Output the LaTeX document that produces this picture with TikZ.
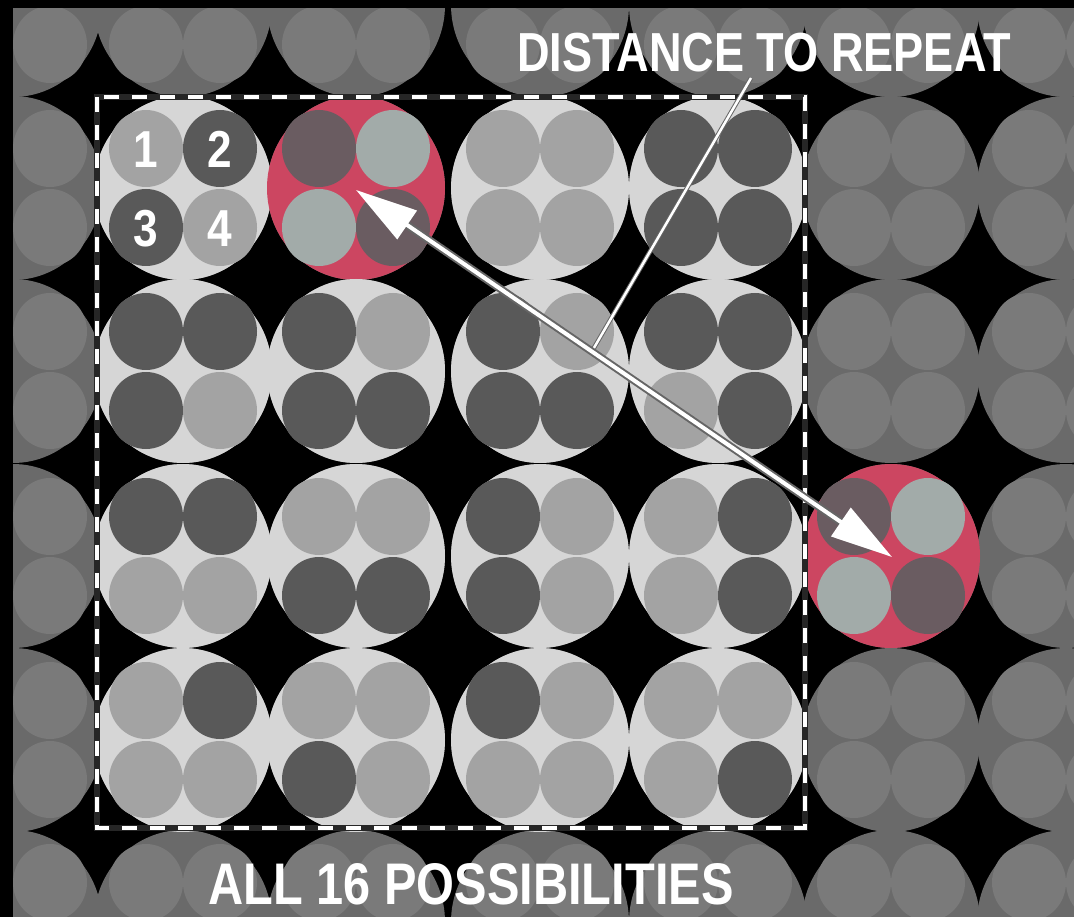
\documentclass[tikz,border=0pt]{standalone}
\usepackage{fontspec}
\usepackage{graphicx}
\newfontfamily\labfont{Liberation Sans}
\usetikzlibrary{arrows.meta,calc}
\definecolor{bigin}{HTML}{D6D6D6}
\definecolor{dk}{HTML}{595959}
\definecolor{lt}{HTML}{A3A3A3}
\definecolor{bigout}{HTML}{6A6A6A}
\definecolor{sout}{HTML}{7A7A7A}
\definecolor{rbig}{HTML}{CC4661}
\definecolor{rdk}{HTML}{6A5C61}
\definecolor{rlt}{HTML}{A2ABA9}
\tikzset{
  lbl/.style={text=white, inner sep=0pt, font=\labfont\bfseries},
  num/.style={text=white, inner sep=0pt, anchor=base, font=\labfont\bfseries\fontsize{52pt}{56pt}\selectfont},
  arrowshaft/.style={line width=4pt, white},
}
\newcommand{\cellbig}[3]{\fill[#3] (#1,#2) ellipse [x radius=89pt, y radius=92pt];}
\newcommand{\cellsmall}[6]{%
  \fill[#3] (#1-37,#2-39.5) ellipse [x radius=37pt, y radius=38.5pt];
  \fill[#4] (#1+37,#2-39.5) ellipse [x radius=37pt, y radius=38.5pt];
  \fill[#5] (#1-37,#2+39.5) ellipse [x radius=37pt, y radius=38.5pt];
  \fill[#6] (#1+37,#2+39.5) ellipse [x radius=37pt, y radius=38.5pt];}
\begin{document}
\begin{tikzpicture}[x=1pt,y=-1pt]
\useasboundingbox (0,0) rectangle (1074,917);
\clip (0,0) rectangle (1074,917);
\fill[black] (0,0) rectangle (1074,917);
% outer grey cells
\foreach \cx in {13,183,356,540,718,891,1066}{
  \foreach \cy in {5,188,371,556,740,922}{
    \cellbig{\cx}{\cy}{bigout}
  }
}
\foreach \cx in {13,183,356,540,718,891,1066}{
  \foreach \cy in {5,188,371,556,740,922}{
    \cellsmall{\cx}{\cy}{sout}{sout}{sout}{sout}
  }
}
% inner cells (all 16 possibilities) and the repeated one
\foreach \cx/\cy/\g in {
  183/188/bigin, 356/188/rbig, 540/188/bigin, 718/188/bigin,
  183/371/bigin, 356/371/bigin, 540/371/bigin, 718/371/bigin,
  183/556/bigin, 356/556/bigin, 540/556/bigin, 718/556/bigin,
  183/740/bigin, 356/740/bigin, 540/740/bigin, 718/740/bigin,
  891/556/rbig}{
  \cellbig{\cx}{\cy}{\g}
}
\foreach \cx/\cy/\pa/\pb/\pc/\pd in {
  183/188/lt/dk/dk/lt, 356/188/rdk/rlt/rlt/rdk, 540/188/lt/lt/lt/lt, 718/188/dk/dk/dk/dk,
  183/371/dk/dk/dk/lt, 356/371/dk/lt/dk/dk, 540/371/dk/lt/dk/dk, 718/371/dk/dk/lt/dk,
  183/556/dk/dk/lt/lt, 356/556/lt/lt/dk/dk, 540/556/dk/lt/dk/lt, 718/556/lt/dk/lt/dk,
  183/740/lt/dk/lt/lt, 356/740/lt/lt/dk/lt, 540/740/dk/lt/lt/lt, 718/740/lt/lt/lt/dk,
  891/556/rdk/rlt/rlt/rdk}{
  \cellsmall{\cx}{\cy}{\pa}{\pb}{\pc}{\pd}
}
% frame strips
\fill[black] (0,0) rectangle (13,917);
\fill[black] (0,0) rectangle (1074,8);
% dashed rectangle
\coordinate (dA) at (97,97);
\coordinate (dB) at (805,828);
\draw[black!85, line width=5.5pt] (dA) rectangle (dB);
\draw[white, line width=4pt, dash pattern=on 15pt off 13pt] (dA) rectangle (dB);
% numbers
\node[num] (n1) at (146,168) {\scalebox{0.85}[1]{1}};
\node[num] (n2) at (220,168) {\scalebox{0.85}[1]{2}};
\node[num] (n3) at (146,247) {\scalebox{0.85}[1]{3}};
\node[num] (n4) at (220,247) {\scalebox{0.85}[1]{4}};
% distance arrow
\coordinate (r1) at (356,190);
\coordinate (r2) at (892,557);
\coordinate (ptop) at (751,78);
\coordinate (pbot) at ($(r1)!0.44!(r2)$);
\draw[black!60, line width=4.5pt] (ptop) -- (pbot);
\draw[white, line width=2.5pt] (ptop) -- (pbot);
\draw[black!60, line width=8pt, shorten <=55pt, shorten >=55pt] (r1) -- (r2);
\draw[arrowshaft, {Triangle[length=62pt,width=34pt]}-{Triangle[length=62pt,width=34pt]}] (r1) -- (r2);
% labels
\node[lbl, anchor=base] (t1) at (764,72) {\fontsize{55pt}{60pt}\selectfont\scalebox{0.82}[1]{DISTANCE TO REPEAT}};
\node[lbl, anchor=base] (t2) at (471,904) {\fontsize{58.7pt}{64pt}\selectfont\scalebox{0.83}[1]{ALL 16 POSSIBILITIES}};
\end{tikzpicture}
\end{document}
